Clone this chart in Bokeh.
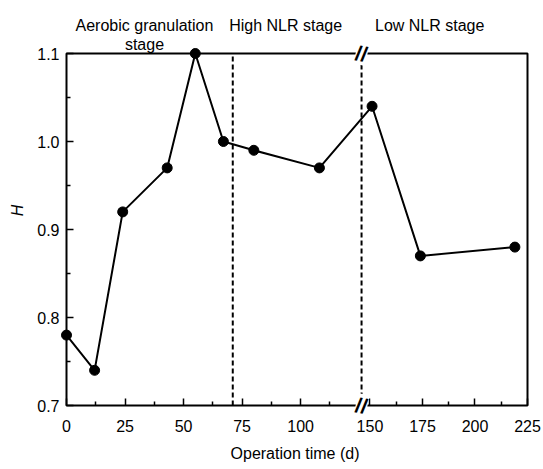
from bokeh.plotting import figure
from bokeh.models import Range1d, FixedTicker, Label
from bokeh.embed import file_html
from bokeh.resources import INLINE

# ---------------- data ----------------
days = [0, 12, 24, 43, 55, 67, 80, 108, 151, 174, 219]
h_values = [0.78, 0.74, 0.92, 0.97, 1.10, 1.00, 0.99, 0.97, 1.04, 0.87, 0.88]
x_tick_days = [0, 25, 50, 75, 100, 150, 175, 200, 225]
x_tick_labels = ["0", "25", "50", "75", "100", "150", "175", "200", "225"]
x_minor_days = [12.5, 37.5, 62.5, 87.5, 112.5, 162.5, 187.5, 212.5]
y_ticks = [0.7, 0.8, 0.9, 1.0, 1.1]
y_tick_labels = ["0.7", "0.8", "0.9", "1.0", "1.1"]
y_minor = [0.75, 0.85, 0.95, 1.05]
stage_boundary_days = [71]
stage_line1 = ["Aerobic granulation", "High NLR stage", "Low NLR stage"]
stage_line2 = ["stage", "", ""]

# ---------------- broken x axis ----------------
BREAK_LEFT = 126.0    # last day of the left segment
BREAK_RIGHT = 146.0   # first day of the right segment
RIGHT_SCALE = 0.897   # right segment is drawn more compressed
X_END = 225
Y_START, Y_END = 0.7, 1.1


def xp(d):
    return d if d <= BREAK_LEFT else BREAK_LEFT + (d - BREAK_RIGHT) * RIGHT_SCALE


x_max = xp(X_END)

# layout (pixels)
W, H = 543, 469
BOX_L, BOX_R, BOX_T, BOX_B = 66, 527, 53, 405
PAD_L, PAD_R, PAD_T, PAD_B = 6, 2, 50, 12
PX_X = (BOX_R - BOX_L) / x_max
PX_Y = (BOX_B - BOX_T) / (Y_END - Y_START)

FONT = "Liberation Sans"

p = figure(width=W, height=H, output_backend="svg", toolbar_location=None,
           x_range=Range1d(-PAD_L / PX_X, x_max + PAD_R / PX_X),
           y_range=Range1d(Y_START - PAD_B / PX_Y, Y_END + PAD_T / PX_Y),
           min_border_left=BOX_L - PAD_L, min_border_right=W - BOX_R - PAD_R,
           min_border_top=BOX_T - PAD_T, min_border_bottom=H - BOX_B - PAD_B)
p.outline_line_color = None
p.grid.visible = False
p.background_fill_color = "white"
p.border_fill_color = "white"

# frame box
p.quad(left=[0], right=[x_max], bottom=[Y_START], top=[Y_END], fill_color=None,
       line_color="black", line_width=2)

# stage boundary dashed lines
bx = [xp(d) for d in stage_boundary_days] + [BREAK_LEFT]
p.segment(x0=bx, y0=[Y_START] * len(bx), x1=bx, y1=[Y_END] * len(bx),
          line_color="black", line_width=2, line_dash="5 3")

xs = [xp(d) for d in days]
p.line(xs, h_values, line_color="black", line_width=2)
p.scatter(xs, h_values, size=10, fill_color="black", line_color="black")

# axes
xa = p.xaxis[0]
xa.ticker = FixedTicker(ticks=[xp(d) for d in x_tick_days],
                        minor_ticks=[xp(d) for d in x_minor_days])
xa.major_label_overrides = {xp(d): lbl for d, lbl in zip(x_tick_days, x_tick_labels)}
xa.axis_label = "Operation time (d)"
xa.major_tick_out = -PAD_B
xa.minor_tick_out = -PAD_B
xa.major_tick_in = PAD_B + 7
xa.minor_tick_in = PAD_B + 4
xa.major_label_standoff = 14
xa.axis_label_standoff = 10

ya = p.yaxis[0]
ya.ticker = FixedTicker(ticks=y_ticks, minor_ticks=y_minor)
ya.major_label_overrides = {v: lbl for v, lbl in zip(y_ticks, y_tick_labels)}
ya.axis_label = "H"
ya.major_tick_out = -PAD_L
ya.minor_tick_out = -PAD_L
ya.major_tick_in = PAD_L + 7
ya.minor_tick_in = PAD_L + 4
ya.major_label_standoff = 7
ya.axis_label_standoff = 8

for ax in (xa, ya):
    ax.axis_line_color = None
    ax.major_tick_line_color = "black"
    ax.minor_tick_line_color = "black"
    ax.major_tick_line_width = 1.5
    ax.minor_tick_line_width = 1.5
    ax.major_label_text_font = FONT
    ax.major_label_text_font_size = "16px"
    ax.major_label_text_color = "black"
    ax.axis_label_text_font = FONT
    ax.axis_label_text_font_size = "16px"
    ax.axis_label_text_color = "black"
ya.axis_label_text_font_style = "italic"
xa.axis_label_text_font_style = "normal"

# break marks
for yy in (Y_START, Y_END):
    p.add_layout(Label(x=BREAK_LEFT, y=yy, text="//", text_align="center",
                       text_baseline="middle", text_font=FONT, text_font_size="21px",
                       text_font_style="bold", text_color="black",
                       background_fill_color="white", angle=-0.2))

# stage labels
stage_x = [33.3, 93.6, 155.1]
for sx, l1, l2 in zip(stage_x, stage_line1, stage_line2):
    p.add_layout(Label(x=sx, y=Y_END + 28 / PX_Y, text=l1, text_align="center",
                       text_baseline="alphabetic", text_font=FONT, text_font_size="16px",
                       text_color="black"))
    if l2:
        p.add_layout(Label(x=sx, y=Y_END + 9 / PX_Y, text=l2, text_align="center",
                           text_baseline="alphabetic", text_font=FONT,
                           text_font_size="16px", text_color="black"))

open("out.html", "w").write(file_html(p, INLINE))
